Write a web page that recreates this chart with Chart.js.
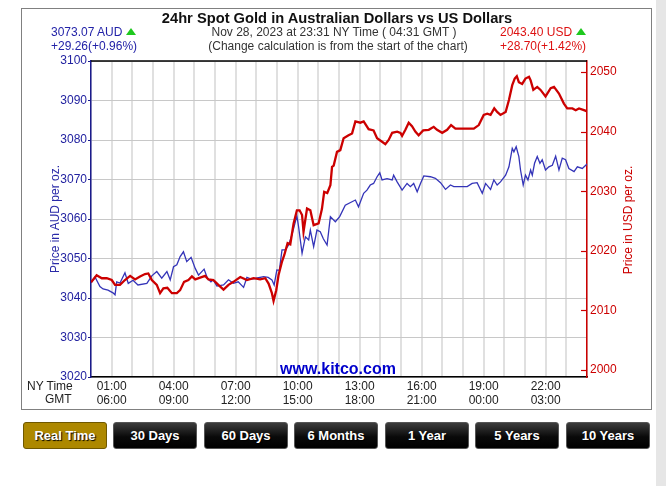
<!DOCTYPE html>
<html>
<head>
<meta charset="utf-8">
<script src="https://cdn.jsdelivr.net/npm/chart.js@4.4.0/dist/chart.umd.min.js"></script>
<style>
  body { margin: 0; width: 666px; height: 486px; background: #fff; position: relative; overflow: hidden;
         font-family: "Liberation Sans", Arial, sans-serif; }
  #scroll { position: absolute; left: 656px; top: 0; width: 10px; height: 486px; background: #e6e6e6; }
  #frame { position: absolute; left: 21px; top: 8px; width: 631px; height: 402px; box-sizing: border-box;
           border: 1px solid #808080; }
  #wrap { position: absolute; left: 0; top: 0; width: 666px; height: 420px; }
  .t { position: absolute; white-space: nowrap; font-size: 12px; line-height: 14px; }
  .c { text-align: center; width: 400px; }
  .tri { display: inline-block; width: 0; height: 0; border-left: 5.5px solid transparent; border-right: 5.5px solid transparent;
         border-bottom: 7px solid #1ec81e; margin-left: 4px; vertical-align: 1px; }
  .rot { position: absolute; width: 160px; text-align: center; font-size: 12px; line-height: 14px; transform: rotate(-90deg); white-space: nowrap; }
  .btn { position: absolute; top: 422px; width: 84px; height: 27px; box-sizing: border-box; border: 1px solid #555;
         border-radius: 3px; background: linear-gradient(#3c3c3c, #0a0a0a 55%, #000); color: #fff; font-weight: bold;
         font-size: 13px; line-height: 25px; text-align: center; text-shadow: 1px 1px 1px #000; }
  .btn.on { background: #ad8800; border-color: #6f5800; }
</style>
</head>
<body>
<div id="scroll"></div>
<div id="frame"></div>
<div id="wrap"><canvas id="chart" width="666" height="420"></canvas></div>

<div class="t c" style="left:137px;top:10px;font-size:14.7px;font-weight:bold;line-height:16px;color:#111;">24hr Spot Gold in Australian Dollars vs US Dollars</div>
<div class="t c" style="left:134px;top:25px;color:#333;">Nov 28, 2023 at 23:31 NY Time ( 04:31 GMT )</div>
<div class="t c" style="left:138px;top:39px;color:#333;">(Change calculation is from the start of the chart)</div>
<div class="t" style="left:51px;top:25px;color:#2323a8;">3073.07 AUD<span class="tri"></span></div>
<div class="t" style="left:51px;top:39px;color:#2323a8;">+29.26(+0.96%)</div>
<div class="t" style="left:500px;top:25px;color:#dd1111;">2043.40 USD<span class="tri"></span></div>
<div class="t" style="left:500px;top:39px;color:#dd1111;">+28.70(+1.42%)</div>
<div class="rot" style="left:-25px;top:212px;color:#2a2aa8;">Price in AUD per oz.</div>
<div class="rot" style="left:548px;top:213px;color:#cc0000;">Price in USD per oz.</div>
<div class="t" style="left:27px;top:379px;color:#222;">NY Time</div>
<div class="t" style="left:45px;top:392px;color:#222;">GMT</div>
<div class="t c" style="left:138px;top:360px;font-size:16px;line-height:18px;font-weight:bold;color:#0000cc;">www.kitco.com</div>

<div class="btn on" style="left:23px;">Real Time</div>
<div class="btn" style="left:113px;">30 Days</div>
<div class="btn" style="left:204px;">60 Days</div>
<div class="btn" style="left:294px;">6 Months</div>
<div class="btn" style="left:385px;">1 Year</div>
<div class="btn" style="left:475px;">5 Years</div>
<div class="btn" style="left:566px;">10 Years</div>

<script>
// hours since 00:00 NY time (chart runs 23:31 -> 23:31)
const audTimes = [-0.48,-0.29,-0.05,0.10,0.34,0.58,0.68,0.76,0.92,1.16,1.32,1.55,1.79,2.22,2.46,2.70,2.94,3.19,3.35,3.51,
  3.67,3.83,3.99,4.15,4.36,4.56,4.72,4.99,5.15,5.32,5.43,5.61,5.93,6.17,6.41,6.64,6.90,7.06,7.27,7.51,
  7.87,8.09,8.27,8.38,8.51,8.63,8.76,8.92,9.08,9.24,9.48,9.56,9.73,9.89,10.05,10.13,10.29,10.45,10.61,10.76,
  10.94,11.10,11.34,11.55,11.82,12.31,12.46,12.71,12.87,13.03,13.19,13.36,13.49,13.60,13.84,14.09,14.16,14.33,14.57,14.81,
  14.97,15.13,15.30,15.46,15.62,15.94,16.18,16.43,16.67,16.91,17.07,17.40,17.72,17.96,18.20,18.45,18.61,18.85,19.01,19.17,
  19.33,19.58,19.74,19.90,19.98,20.09,20.22,20.30,20.43,20.54,20.66,20.79,20.87,20.98,21.11,21.24,21.35,21.51,21.67,21.84,
  22.00,22.16,22.32,22.48,22.64,22.89,23.05,23.29,23.52];
const audPrices = [3043.8,3045.3,3042.9,3042.3,3042.0,3041.3,3040.8,3044.1,3043.8,3046.4,3043.7,3044.5,3043.3,3043.7,3045.6,3046.7,3045.0,3046.7,3044.6,3047.9,
  3048.4,3050.5,3051.7,3049.2,3050.3,3047.5,3045.8,3047.3,3045.0,3044.1,3044.6,3043.0,3043.3,3044.6,3043.7,3044.1,3042.7,3045.2,3044.8,3045.0,
  3045.4,3045.2,3044.6,3043.3,3047.1,3047.0,3052.2,3052.2,3053.4,3056.0,3060.8,3058.1,3051.3,3055.5,3054.7,3057.2,3053.0,3057.2,3056.8,3055.0,
  3053.4,3060.6,3059.3,3060.6,3063.5,3064.8,3063.1,3066.5,3067.3,3068.6,3069.0,3070.7,3071.7,3069.9,3070.2,3069.9,3071.1,3069.4,3067.3,3069.0,
  3068.2,3069.0,3066.9,3069.0,3070.9,3070.7,3070.3,3069.2,3067.5,3068.6,3068.2,3068.2,3068.2,3069.0,3069.2,3066.5,3069.0,3067.5,3069.9,3068.6,
  3069.4,3071.1,3073.2,3077.9,3077.0,3078.3,3075.8,3072.4,3068.6,3071.1,3069.9,3072.4,3071.1,3074.1,3075.8,3074.1,3075.0,3072.4,3073.2,3073.6,
  3075.9,3072.4,3075.4,3075.0,3072.8,3072.0,3073.2,3072.8,3073.9];

const usdTimes = [-0.48,-0.21,0.04,0.28,0.52,0.68,0.92,1.16,1.41,1.65,1.89,2.13,2.29,2.46,2.70,2.86,3.02,3.21,3.43,3.67,
  3.83,4.02,4.23,4.40,4.56,4.80,5.04,5.20,5.44,5.68,5.93,6.17,6.41,6.74,7.06,7.38,7.70,7.95,8.11,8.27,
  8.35,8.48,8.59,8.76,8.87,9.03,9.16,9.32,9.48,9.61,9.73,9.80,9.97,10.13,10.29,10.53,10.69,10.80,10.95,11.10,
  11.18,11.26,11.42,11.58,11.74,11.98,12.15,12.31,12.55,12.71,12.95,13.19,13.36,13.60,13.76,13.92,14.09,14.33,14.49,14.57,
  14.73,14.89,15.05,15.21,15.37,15.59,15.86,16.10,16.26,16.51,16.75,16.94,17.15,17.55,18.04,18.28,18.52,18.69,18.85,19.03,
  19.17,19.33,19.58,19.74,19.90,20.02,20.12,20.22,20.38,20.54,20.71,20.79,20.92,21.11,21.27,21.51,21.76,21.92,22.16,22.40,
  22.56,22.81,22.97,23.13,23.37,23.52];
const usdPrices = [2014.7,2015.9,2015.4,2015.4,2015.1,2014.3,2014.3,2015.1,2015.8,2015.2,2015.7,2016.1,2016.2,2015.1,2014.3,2012.9,2013.7,2013.8,2012.9,2012.9,
  2013.4,2014.8,2015.1,2015.7,2015.2,2015.5,2015.8,2015.2,2015.1,2014.3,2013.5,2014.3,2014.8,2015.6,2015.1,2015.4,2015.2,2015.4,2014.5,2012.9,
  2011.6,2013.4,2015.9,2018.2,2019.3,2021.3,2021.1,2024.6,2026.8,2026.8,2026.0,2023.2,2027.1,2026.8,2024.3,2024.6,2027.0,2029.9,2029.7,2031.0,
  2034.1,2034.3,2036.6,2036.9,2038.9,2039.4,2039.7,2041.7,2041.5,2041.7,2040.4,2040.2,2038.9,2038.3,2037.9,2038.6,2039.8,2040.0,2039.8,2039.3,
  2040.3,2041.5,2040.9,2040.0,2039.4,2040.2,2040.3,2040.8,2040.3,2039.8,2040.3,2041.1,2040.5,2040.5,2040.5,2041.1,2042.8,2043.0,2042.8,2043.9,
  2043.3,2042.8,2043.3,2045.3,2047.8,2048.9,2049.3,2048.3,2048.0,2048.9,2049.2,2048.6,2047.0,2047.5,2047.0,2045.9,2047.3,2047.5,2046.4,2044.7,
  2043.9,2043.9,2043.6,2043.9,2043.6,2043.4];

const tickHours = [1, 4, 7, 10, 13, 16, 19, 22];
const nyLabels = ['01:00', '04:00', '07:00', '10:00', '13:00', '16:00', '19:00', '22:00'];
const gmtLabels = ['06:00', '09:00', '12:00', '15:00', '18:00', '21:00', '00:00', '03:00'];

const toPoints = (xs, ys) => xs.map((x, i) => ({ x: x, y: ys[i] }));

const extras = {
    id: 'extras',
    afterDraw(chart) {
        const ctx = chart.ctx;
        const a = chart.chartArea;
        ctx.save();
        // top border
        ctx.strokeStyle = '#000';
        ctx.lineWidth = 1.5;
        ctx.beginPath();
        ctx.moveTo(a.left, a.top);
        ctx.lineTo(a.right, a.top);
        ctx.stroke();
        // inward tick marks on the USD axis
        const usd = chart.scales.usd;
        ctx.strokeStyle = '#cc0000';
        ctx.lineWidth = 1.2;
        usd.ticks.forEach(t => {
            const y = Math.round(usd.getPixelForValue(t.value)) + 0.5;
            ctx.beginPath();
            ctx.moveTo(a.right - 6, y);
            ctx.lineTo(a.right, y);
            ctx.stroke();
        });
        ctx.restore();
    }
};

new Chart(document.getElementById('chart'), {
    type: 'line',
    data: {
        datasets: [
            {
                label: 'USD',
                data: toPoints(usdTimes, usdPrices),
                yAxisID: 'usd',
                borderColor: '#cc0000',
                borderWidth: 2.3,
                pointRadius: 0,
                tension: 0,
                order: 0
            },
            {
                label: 'AUD',
                data: toPoints(audTimes, audPrices),
                yAxisID: 'aud',
                borderColor: '#3434b8',
                borderWidth: 1.3,
                pointRadius: 0,
                tension: 0,
                order: 1
            }
        ]
    },
    options: {
        responsive: false,
        animation: false,
        layout: { padding: { left: 0, right: 0, top: 61, bottom: 0 } },
        plugins: { legend: { display: false }, tooltip: { enabled: false } },
        scales: {
            x: {
                type: 'linear',
                min: -0.483,
                max: 23.517,
                afterFit: s => { s.height = 43; },
                grid: { color: '#e0e0e0', lineWidth: 2, drawTicks: false },
                border: { color: '#000', width: 1.5 },
                ticks: {
                    stepSize: 1,
                    includeBounds: false,
                    autoSkip: false,
                    maxRotation: 0,
                    minRotation: 0,
                    padding: 3,
                    color: '#222',
                    font: { family: 'Liberation Sans', size: 12, lineHeight: 1.17 },
                    callback: v => {
                        const i = tickHours.indexOf(Math.round(v));
                        return i < 0 ? '' : [nyLabels[i], gmtLabels[i]];
                    }
                }
            },
            aud: {
                position: 'left',
                min: 3020,
                max: 3100,
                afterFit: s => { s.width = 91; },
                grid: { color: '#c8c8c8', lineWidth: 1, tickLength: 3, tickColor: '#1a1a8c' },
                border: { color: '#1a1a8c', width: 1.5 },
                ticks: { stepSize: 10, padding: 1, color: '#2222a0', font: { family: 'Liberation Sans', size: 12 },
                         callback: v => String(v) }
            },
            usd: {
                position: 'right',
                min: 1998.83,
                max: 2051.85,
                afterFit: s => { s.width = 79; },
                grid: { drawOnChartArea: false, drawTicks: false },
                border: { color: '#cc0000', width: 1.5 },
                ticks: { stepSize: 10, includeBounds: false, padding: 3, color: '#cc0000', font: { family: 'Liberation Sans', size: 12 },
                         callback: v => String(v) }
            }
        }
    },
    plugins: [extras]
});
</script>
</body>
</html>
